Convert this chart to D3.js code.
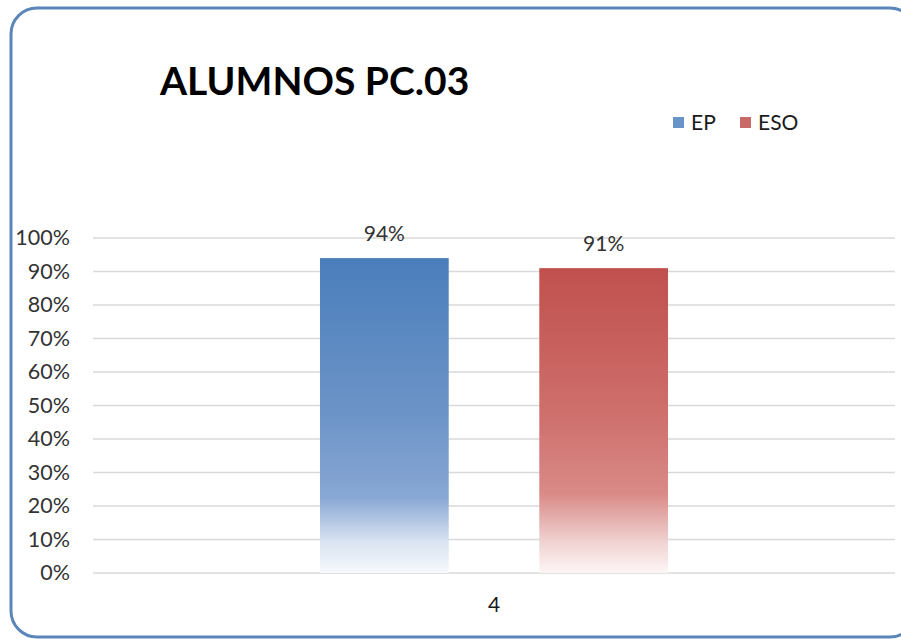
<!DOCTYPE html>
<html>
<head>
<meta charset="utf-8">
<script src="https://cdn.jsdelivr.net/npm/d3@7"></script>
<style>
  body { margin: 0; background: #ffffff; }
  svg { display: block; }
</style>
</head>
<body>
<div id="chart"></div>
<script>

// data
var categories = ["4"];
var seriesNames = ["EP", "ESO"];
var seriesValues = [0.94, 0.91];
var yTicks = [0, 0.1, 0.2, 0.3, 0.4, 0.5, 0.6, 0.7, 0.8, 0.9, 1.0];
var seriesColors = ["#4f81bd", "#c0504d"];

var width = 901, height = 641;
var margin = {top: 238, right: 6, bottom: 68, left: 93};
var font = "Lato, 'Open Sans', sans-serif";

var svg = d3.select("#chart")
	.append("svg")
	.attr("width", width)
	.attr("height", height);

// gradients for the bars (dark at top, fading out to white near the bottom)
var defs = svg.append("defs");
var gradStops = [
	[{o: 0, c: "#4a7ebb"}, {o: 0.5, c: "#6d94c8"}, {o: 0.76, c: "#88a7d4"}, {o: 0.9, c: "#d9e3f1"}, {o: 1, c: "#f6f9fc"}],
	[{o: 0, c: "#c0504d"}, {o: 0.5, c: "#cf716e"}, {o: 0.74, c: "#d98a87"}, {o: 0.9, c: "#f0d3d2"}, {o: 1, c: "#fdf6f6"}]
];
gradStops.forEach(function (stops, i) {
	var g = defs.append("linearGradient")
		.attr("id", "grad" + i)
		.attr("x1", 0).attr("y1", 0)
		.attr("x2", 0).attr("y2", 1);
	stops.forEach(function (s) {
		g.append("stop").attr("offset", s.o).attr("stop-color", s.c);
	});
});

// rounded frame round the chart
svg.append("rect")
	.attr("x", 11)
	.attr("y", 8)
	.attr("width", 905)
	.attr("height", 629)
	.attr("rx", 26)
	.attr("fill", "#ffffff")
	.attr("stroke", "#5b86b9")
	.attr("stroke-width", 3);

var plotW = width - margin.left - margin.right;
var plotH = height - margin.top - margin.bottom;

var g = svg.append("g")
	.attr("transform", "translate(" + margin.left + "," + margin.top + ")");

// scales
var x0 = d3.scaleBand()
	.domain(categories)
	.range([0, plotW]);

var x1 = d3.scaleBand()
	.domain(seriesNames)
	.range([0, x0.bandwidth()])
	.paddingInner(0.413)
	.paddingOuter(1.035);

var y = d3.scaleLinear()
	.domain([0, 1])
	.range([plotH, 0]);

// gridlines
g.append("g")
	.selectAll("line")
	.data(yTicks)
	.enter()
	.append("line")
	.attr("x1", 0)
	.attr("x2", plotW)
	.attr("y1", function (d) { return y(d); })
	.attr("y2", function (d) { return y(d); })
	.attr("stroke", "#d9d9d9")
	.attr("stroke-width", 1.5);

// y axis labels
var yAxis = g.append("g")
	.call(d3.axisLeft(y).tickValues(yTicks).tickFormat(d3.format(".0%")).tickSize(0).tickPadding(23));
yAxis.select(".domain").remove();
yAxis.selectAll("text")
	.attr("font-family", font)
	.attr("font-size", 21.5)
	.attr("fill", "#333333");

// x axis label
var xAxis = g.append("g")
	.attr("transform", "translate(0," + plotH + ")")
	.call(d3.axisBottom(x0).tickSize(0).tickPadding(24));
xAxis.select(".domain").remove();
xAxis.selectAll("text")
	.attr("font-family", font)
	.attr("font-size", 21)
	.attr("fill", "#1a1a1a");

// bars
var bars = g.selectAll(".grp")
	.data(categories)
	.enter()
	.append("g")
	.attr("transform", function (d) { return "translate(" + x0(d) + ",0)"; });

bars.selectAll("rect")
	.data(seriesNames.map(function (s, i) { return {name: s, value: seriesValues[i], idx: i}; }))
	.enter()
	.append("rect")
	.attr("x", function (d) { return x1(d.name); })
	.attr("y", function (d) { return y(d.value); })
	.attr("width", x1.bandwidth())
	.attr("height", function (d) { return plotH - y(d.value); })
	.attr("fill", function (d) { return "url(#grad" + d.idx + ")"; });

// data labels
bars.selectAll(".lbl")
	.data(seriesNames.map(function (s, i) { return {name: s, value: seriesValues[i]}; }))
	.enter()
	.append("text")
	.attr("x", function (d) { return x1(d.name) + x1.bandwidth() / 2; })
	.attr("y", function (d) { return y(d.value) - 17; })
	.attr("text-anchor", "middle")
	.attr("font-family", font)
	.attr("font-size", 21)
	.attr("fill", "#333333")
	.text(function (d) { return d3.format(".0%")(d.value); });

// title
svg.append("text")
	.attr("x", 160)
	.attr("y", 95)
	.attr("font-family", font)
	.attr("font-weight", "bold")
	.attr("font-size", 39)
	.attr("fill", "#000000")
	.text("ALUMNOS PC.03");

// legend
var legendX = [673, 740];
var legend = svg.selectAll(".legend")
	.data(seriesNames)
	.enter()
	.append("g")
	.attr("transform", function (d, i) { return "translate(" + legendX[i] + ",117)"; });

legend.append("rect")
	.attr("width", 11)
	.attr("height", 11)
	.attr("fill", function (d, i) { return seriesColors[i]; })
	.attr("opacity", 0.85);

legend.append("text")
	.attr("x", 18)
	.attr("y", 13)
	.attr("font-family", font)
	.attr("font-size", 21)
	.attr("fill", "#1a1a1a")
	.text(function (d) { return d; });

</script>
</body>
</html>
